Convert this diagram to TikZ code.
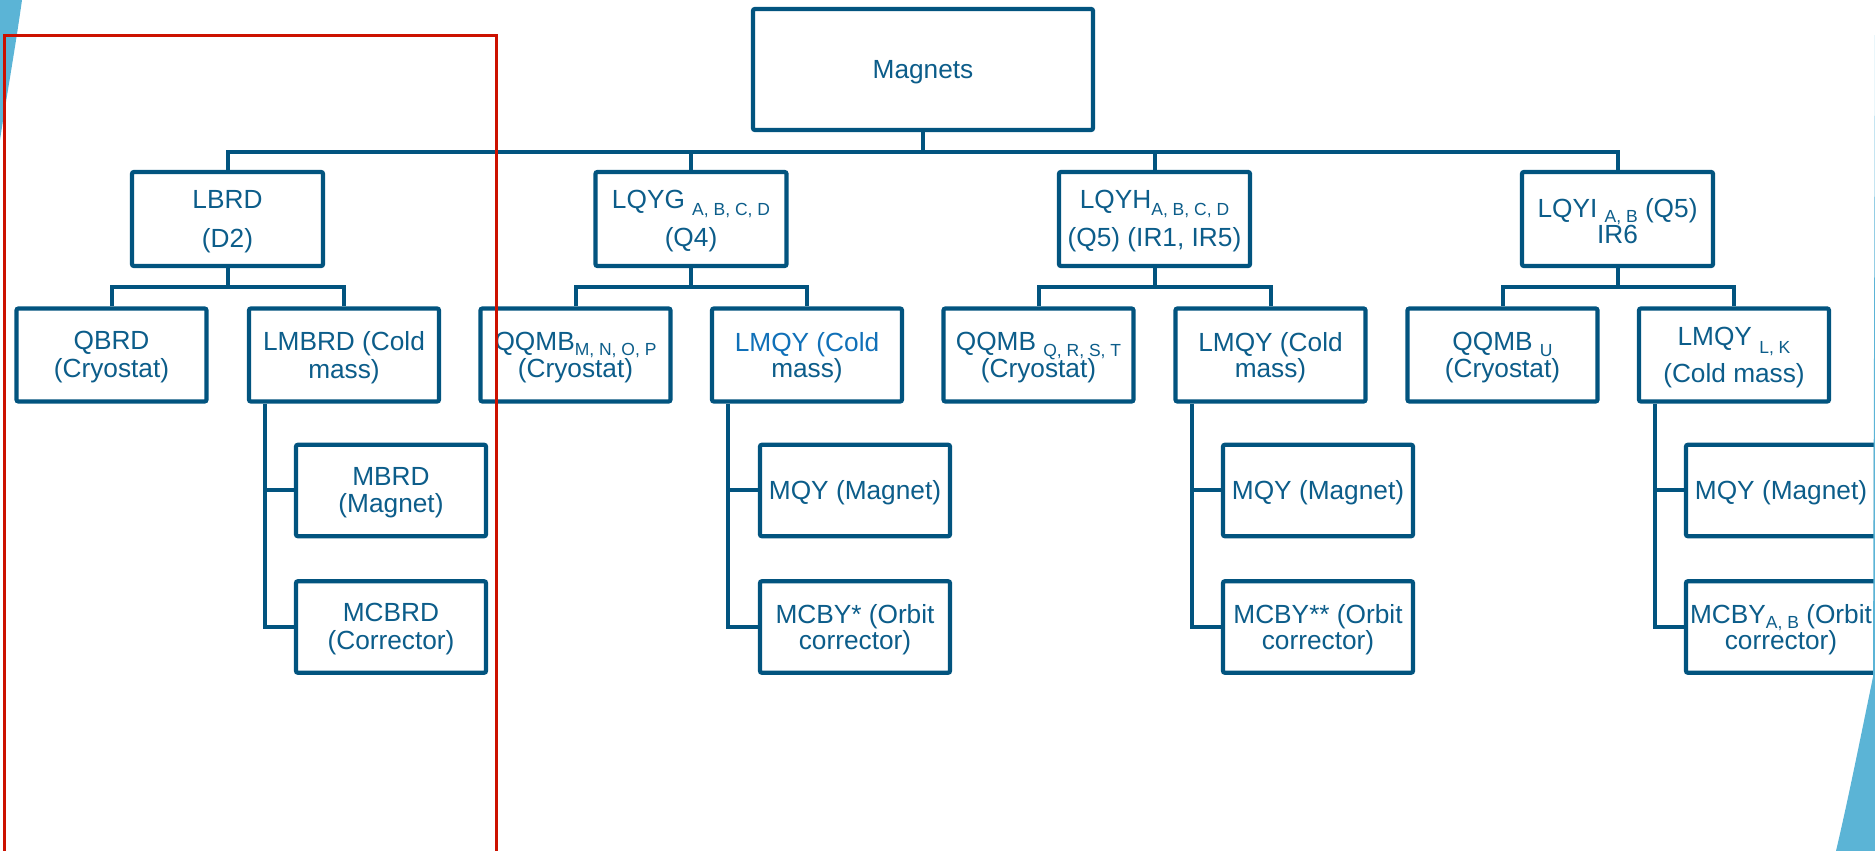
\documentclass[tikz,border=0pt]{standalone}
\usepackage{fontspec}
\setmainfont{Liberation Sans}
\usetikzlibrary{calc}
\definecolor{boxc}{HTML}{02547F}
\definecolor{txtc}{HTML}{0C5D8A}
\definecolor{brightc}{HTML}{1070B8}
\definecolor{framec}{HTML}{CC1100}
\definecolor{swc}{HTML}{5BB4D6}
\newcommand{\subx}[2]{\smash{\raisebox{-#1}{\fontsize{7}{8}\selectfont #2}}}
\begin{document}
\begin{tikzpicture}[x=0.4pt,y=-0.4pt,
  box/.style={draw=boxc, line width=1.7pt, rounded corners=0.8pt, fill=white, inner sep=0pt},
  topbox/.style={box, minimum width=136pt, minimum height=48.4pt},
  lone/.style={box, minimum width=76.4pt, minimum height=37.6pt},
  ltwo/.style={box, minimum width=76pt, minimum height=37.2pt},
  lthree/.style={box, minimum width=76pt, minimum height=36.6pt},
  lbl/.style={text=txtc, align=center, inner sep=0pt, yshift=-1pt, font=\fontsize{10.5}{#1}\selectfont},
  lbl/.default=10.8pt,
  conn/.style={draw=boxc, line width=1.6pt},
  frame/.style={draw=framec, line width=1.2pt},
  swoosh/.style={fill=swc}]
\useasboundingbox (0,0) rectangle (1875,851);
\clip (0,0) rectangle (1875,851);

% bus coordinates
\coordinate (bus) at (0,152);
\coordinate (sbus) at (0,287);

% top
\node[topbox] (mag) at (923,69.5) {};
\node[lbl] (magt) at (mag) {Magnets};

% level 1
\node[lone] (lbrd) at (227.5,219) {};
\node[lone] (lqyg) at (691,219) {};
\node[lone] (lqyh) at (1154.5,219) {};
\node[lone] (lqyi) at (1617.5,219) {};
\node[lbl=15.6pt] (lbrdt) at (lbrd) {LBRD\\(D2)};
\node[lbl=15.2pt] (lqygt) at (lqyg) {LQYG \subx{2.8pt}{A, B, C, D}\\(Q4)};
\node[lbl=15.2pt] (lqyht) at (lqyh) {LQYH\subx{2.8pt}{A, B, C, D}\\(Q5) (IR1, IR5)};
\node[lbl=10.4pt] (lqyit) at (lqyi) {LQYI \subx{2pt}{A, B} (Q5)\\IR6};

% level 2
\node[ltwo] (qbrd) at (111.5,355) {};
\node[ltwo] (lmbrd) at (344,355) {};
\node[ltwo] (qqmba) at (575.5,355) {};
\node[ltwo] (lmqya) at (807,355) {};
\node[ltwo] (qqmbb) at (1038.5,355) {};
\node[ltwo] (lmqyb) at (1270.5,355) {};
\node[ltwo] (qqmbc) at (1502.5,355) {};
\node[ltwo] (lmqyc) at (1734,355) {};
\node[lbl=11.2pt] (qbrdt) at (qbrd) {QBRD\\(Cryostat)};
\node[lbl=11.2pt] (lmbrdt) at (lmbrd) {LMBRD (Cold\\mass)};
\node[lbl=11pt] (qqmbat) at (qqmba) {QQMB\subx{2pt}{M, N, O, P}\\(Cryostat)};
\node[lbl=10.6pt] (lmqyat) at (lmqya) {\textcolor{brightc}{LMQY (Cold}\\mass)};
\node[lbl=11pt] (qqmbbt) at (qqmbb) {QQMB \subx{2.4pt}{Q, R, S, T}\\(Cryostat)};
\node[lbl=10.6pt] (lmqybt) at (lmqyb) {LMQY (Cold\\mass)};
\node[lbl=11pt] (qqmbct) at (qqmbc) {QQMB \subx{2.4pt}{U}\\(Cryostat)};
\node[lbl=14.8pt] (lmqyct) at (lmqyc) {LMQY \subx{3.2pt}{L, K}\\(Cold mass)};

% level 3
\node[lthree] (mbrd) at (391,490.5) {};
\node[lthree] (mcbrd) at (391,627) {};
\node[lthree] (mqya) at (855,490.5) {};
\node[lthree] (mcbya) at (855,627) {};
\node[lthree] (mqyb) at (1318,490.5) {};
\node[lthree] (mcbyb) at (1318,627) {};
\node[lthree] (mqyc) at (1781,490.5) {};
\node[lthree] (mcbyc) at (1781,627) {};
\node[lbl=10.8pt] (mbrdt) at (mbrd) {MBRD\\(Magnet)};
\node[lbl=11.2pt] (mcbrdt) at (mcbrd) {MCBRD\\(Corrector)};
\node[lbl] (mqyat) at (mqya) {MQY (Magnet)};
\node[lbl=10.4pt] (mcbyat) at (mcbya) {MCBY* (Orbit\\corrector)};
\node[lbl] (mqybt) at (mqyb) {MQY (Magnet)};
\node[lbl=10.4pt] (mcbybt) at (mcbyb) {MCBY** (Orbit\\corrector)};
\node[lbl] (mqyct) at (mqyc) {MQY (Magnet)};
\node[lbl=10.4pt] (mcbyct) at (mcbyc) {MCBY\subx{2pt}{A, B} (Orbit\\corrector)};

% connectors: top bus
\draw[conn] (mag.south) -- (mag.south |- bus);
\draw[conn] (lbrd.north) |- (lqyi.north |- bus) -- (lqyi.north);
\draw[conn] (lqyg.north) -- (lqyg.north |- bus);
\draw[conn] (lqyh.north) -- (lqyh.north |- bus);

% sub buses
\foreach \p/\a/\b in {lbrd/qbrd/lmbrd, lqyg/qqmba/lmqya, lqyh/qqmbb/lmqyb, lqyi/qqmbc/lmqyc}{
  \draw[conn] (\p.south) -- (\p.south |- sbus);
  \draw[conn] (\a.north) |- (\b.north |- sbus) -- (\b.north);
}

% third level trees
\foreach \c/\m/\k in {lmbrd/mbrd/mcbrd, lmqya/mqya/mcbya, lmqyb/mqyb/mcbyb, lmqyc/mqyc/mcbyc}{
  \draw[conn] ([xshift=7.4pt]\c.south west) |- (\k.west);
  \draw[conn] (\m.west) -- ([xshift=7.4pt]\m.west -| \c.south west);
}

% decorative swooshes
\fill[swoosh] (0,0) -- (22,0) .. controls (15,50) and (6,100) .. (0,140) -- cycle;
\fill[swoosh] (1875,30) -- (1873,677) .. controls (1860,740) and (1848,800) .. (1836,851) -- (1875,851) -- cycle;

% red frame
\draw[frame] (4.5,35.5) rectangle (496.5,853);
\end{tikzpicture}
\end{document}
